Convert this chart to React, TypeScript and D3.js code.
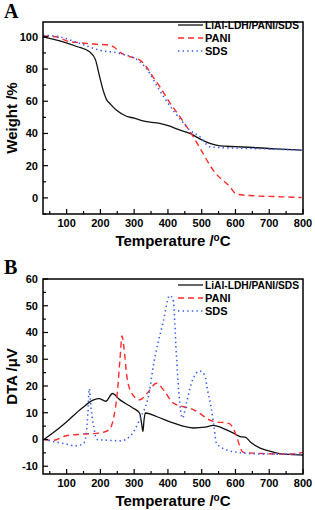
import React from "react";
import * as d3 from "d3";

type Pt = [number, number];

// TGA (panel A)
const tgaComposite: Pt[] = [
  [30, 100], [80, 97.5], [130, 94], [168, 90.7], [185, 86], [198, 75], [208, 66.9],
  [219, 60.7], [228, 58.6], [247, 54.5], [277, 50.7], [300, 49.5], [326, 47.8],
  [376, 46.2], [406, 44.5], [430, 42.5], [465, 40], [500, 36], [524, 33.8],
  [554, 32.3], [600, 31.8], [653, 31.3], [720, 30.4], [796, 29.6],
];
const tgaPani: Pt[] = [
  [30, 100.5], [69, 100], [100, 97.5], [139, 96.3], [180, 95.5], [228, 94.8],
  [243, 93.2], [257, 90.5], [290, 87.5], [317, 85.5], [336, 81.4], [356, 75],
  [376, 69], [406, 59], [440, 49], [475, 38], [500, 29], [534, 17.2],
  [584, 6.8], [603, 2.3], [653, 1.3], [720, 0.8], [796, 0.2],
];
const tgaSds: Pt[] = [
  [30, 101], [79, 100], [139, 95.9], [198, 91.7], [257, 89.7], [317, 84.5],
  [346, 77.3], [366, 70], [415, 54.5], [440, 48], [465, 42], [495, 37.9],
  [524, 31.7], [583, 31], [680, 30.5], [796, 29.6],
];

// DTA (panel B)
const dtaComposite: Pt[] = [
  [33, 0], [60, 2.5], [96, 6.2], [146, 11.8], [180, 14.8], [196, 15.3], [216, 14.3],
  [236, 17.2], [256, 15], [296, 11.8], [316, 9.9], [322, 6], [326, 3], [329, 7],
  [333, 9.9], [366, 8.6], [415, 6.2], [475, 4.3], [510, 4.6], [534, 5.3],
  [570, 3.8], [594, 2.4], [614, 1.1], [630, 0.8], [645, -1], [673, -3.2],
  [700, -4.3], [723, -5.1], [760, -5.6], [800, -5.8],
];
const dtaPani: Pt[] = [
  [33, 0], [60, -0.3], [96, 1.3], [146, 2], [196, 2.4], [225, 3.6], [240, 8.6],
  [250, 17.4], [258, 30], [264, 38.7], [270, 34], [278, 24], [290, 18],
  [316, 14.8], [340, 17.5], [366, 21], [390, 18], [415, 13.7], [475, 11.2],
  [534, 6.8], [580, 6], [596, 3.5], [605, 0.5], [614, -3], [623, -4.8],
  [693, -5.3], [760, -5.5], [800, -4.8],
];
const dtaSds: Pt[] = [
  [33, 0], [70, -1], [96, -1.6], [126, -2.4], [150, -1.5], [158, 2], [163, 10],
  [167, 19], [172, 12], [180, 4.9], [190, 0], [225, -0.3], [260, -0.5],
  [290, 1.5], [316, 7.4], [346, 18.7], [356, 27], [386, 44], [405, 53.8],
  [415, 52.5], [425, 31.8], [432, 18], [443, 8], [455, 13.7], [470, 21.2],
  [494, 25.6], [509, 24], [518, 18], [528, 12], [536, 5], [544, -1.4],
  [574, -3.9], [620, -5], [673, -5.4], [800, -5.5],
];

const xTicks = [100, 200, 300, 400, 500, 600, 700, 800];
const xMinor = [50, 150, 250, 350, 450, 550, 650, 750];
const tgaTicks = [0, 20, 40, 60, 80, 100];
const tgaMinor = [-10, 10, 30, 50, 70, 90];
const dtaTicks = [-10, 0, 10, 20, 30, 40, 50, 60];
const dtaMinor = [-5, 5, 15, 25, 35, 45, 55];

const seriesNames = ["LiAl-LDH/PANI/SDS", "PANI", "SDS"];

const styles = [
  { stroke: "#111", dash: "none", w: 1.3 },
  { stroke: "#ff2a2a", dash: "6,4", w: 1.4 },
  { stroke: "#3a5cff", dash: "1.4,3.2", w: 1.6 },
];

const font = "'Liberation Sans', Arial, sans-serif";

type PanelProps = {
  top: number;
  bottom: number;
  yDomain: [number, number];
  ticks: number[];
  minor: number[];
  series: Pt[][];
  yTitle: React.ReactNode;
  letter: string;
  letterY: number;
  legendY: number;
};

const Panel: React.FC<PanelProps> = (p) => {
  const left = 43;
  const right = 303;
  const x = d3.scaleLinear().domain([30, 800]).range([left, right]);
  const y = d3.scaleLinear().domain(p.yDomain).range([p.bottom, p.top]);
  const line = d3
    .line<Pt>()
    .x((d) => x(d[0]))
    .y((d) => y(d[1]))
    .curve(d3.curveMonotoneX);
  const midY = (p.top + p.bottom) / 2;

  return (
    <g>
      <defs>
        <clipPath id={`clip${p.letter}`}>
          <rect x={left} y={p.top} width={right - left} height={p.bottom - p.top} />
        </clipPath>
      </defs>
      <text x={4} y={p.letterY} fontFamily="'Liberation Serif', 'Times New Roman', serif" fontWeight="bold" fontSize={20}>
        {p.letter}
      </text>
      <g clipPath={`url(#clip${p.letter})`}>
        {p.series.map((s, i) => (
          <path
            key={i}
            d={line(s) || ""}
            fill="none"
            stroke={styles[i].stroke}
            strokeWidth={styles[i].w}
            strokeDasharray={styles[i].dash}
          />
        ))}
      </g>
      <rect x={left} y={p.top} width={right - left} height={p.bottom - p.top} fill="none" stroke="#000" strokeWidth={1.5} />
      {xTicks.map((t) => (
        <g key={t}>
          <line x1={x(t)} x2={x(t)} y1={p.bottom} y2={p.bottom - 5} stroke="#000" strokeWidth={1.2} />
          <text x={x(t)} y={p.bottom + 13} textAnchor="middle" fontFamily={font} fontWeight="bold" fontSize={11}>
            {t}
          </text>
        </g>
      ))}
      {xMinor.map((t) => (
        <line key={t} x1={x(t)} x2={x(t)} y1={p.bottom} y2={p.bottom - 3} stroke="#000" strokeWidth={1.2} />
      ))}
      {p.ticks.map((t) => (
        <g key={t}>
          <line x1={left} x2={left + 5} y1={y(t)} y2={y(t)} stroke="#000" strokeWidth={1.2} />
          <text x={left - 5} y={y(t) + 4} textAnchor="end" fontFamily={font} fontWeight="bold" fontSize={11}>
            {t}
          </text>
        </g>
      ))}
      {p.minor.map((t) => (
        <line key={t} x1={left} x2={left + 3} y1={y(t)} y2={y(t)} stroke="#000" strokeWidth={1.2} />
      ))}
      <text x={173} y={p.bottom + 32} textAnchor="middle" fontFamily={font} fontWeight="bold" fontSize={15}>
        Temperature /<tspan dy={-5} fontSize={10}>o</tspan><tspan dy={5}>C</tspan>
      </text>
      <text
        transform={`translate(17,${midY}) rotate(-90)`}
        textAnchor="middle"
        fontFamily={font}
        fontWeight="bold"
        fontSize={15}
      >
        {p.yTitle}
      </text>
      {seriesNames.map((n, i) => (
        <g key={n}>
          <line
            x1={178}
            x2={203}
            y1={p.legendY + i * 13}
            y2={p.legendY + i * 13}
            stroke={styles[i].stroke}
            strokeWidth={styles[i].w}
            strokeDasharray={styles[i].dash}
          />
          <text
            x={205}
            y={p.legendY + i * 13 + 4}
            fontFamily={font}
            fontWeight="bold"
            fontSize={11}
            textLength={i === 0 ? 94 : undefined}
            lengthAdjust={i === 0 ? "spacingAndGlyphs" : undefined}
          >
            {n}
          </text>
        </g>
      ))}
    </g>
  );
};

const App: React.FC = () => {
  return (
    <svg width={315} height={510} style={{ position: "absolute", left: 0, top: 0 }}>
      <rect width={315} height={510} fill="#fff" />
      <Panel
        top={22}
        bottom={214}
        yDomain={[-10, 109.2]}
        ticks={tgaTicks}
        minor={tgaMinor}
        series={[tgaComposite, tgaPani, tgaSds]}
        yTitle="Weight /%"
        letter="A"
        letterY={18}
        legendY={25}
      />
      <Panel
        top={279}
        bottom={474}
        yDomain={[-12.9, 60]}
        ticks={dtaTicks}
        minor={dtaMinor}
        series={[dtaComposite, dtaPani, dtaSds]}
        yTitle="DTA /μV"
        letter="B"
        letterY={274}
        legendY={285}
      />
    </svg>
  );
};

export default App;
